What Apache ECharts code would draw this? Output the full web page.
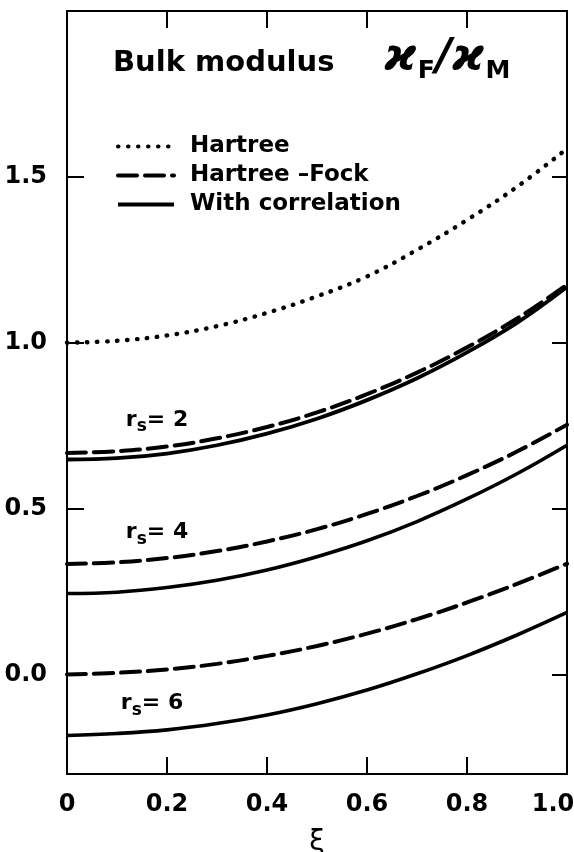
<!DOCTYPE html>
<html>
<head>
<meta charset="utf-8">
<script src="https://cdn.jsdelivr.net/npm/echarts@6/dist/echarts.min.js"></script>
<style>
  html, body { margin: 0; padding: 0; background: #fff; }
  #chart { width: 574px; height: 852px; }
</style>
</head>
<body>
<div id="chart"></div>
<script>
// Spin polarization ξ
const xi = [0, 0.1, 0.2, 0.3, 0.4, 0.5, 0.6, 0.7, 0.8, 0.9, 1.0];

// Hartree (kinetic only)
const hartree = [1.00, 1.006, 1.022, 1.05, 1.09, 1.14, 1.20, 1.28, 1.37, 1.47, 1.585];

// Hartree–Fock for r_s = 2, 4, 6
const hfRs2 = [0.668, 0.673, 0.687, 0.712, 0.746, 0.790, 0.845, 0.910, 0.986, 1.073, 1.175];
const hfRs4 = [0.333, 0.338, 0.351, 0.372, 0.401, 0.438, 0.484, 0.538, 0.601, 0.672, 0.753];
const hfRs6 = [0.000, 0.005, 0.015, 0.032, 0.056, 0.086, 0.123, 0.167, 0.217, 0.273, 0.334];

// With correlation for r_s = 2, 4, 6
const corrRs2 = [0.648, 0.652, 0.666, 0.691, 0.726, 0.771, 0.827, 0.893, 0.971, 1.060, 1.168];
const corrRs4 = [0.244, 0.248, 0.262, 0.284, 0.315, 0.355, 0.403, 0.461, 0.529, 0.605, 0.691];
const corrRs6 = [-0.184, -0.178, -0.167, -0.148, -0.122, -0.088, -0.047, 0.002, 0.057, 0.119, 0.187];

// Axis ticks
const yTickValues = [0, 0.5, 1.0, 1.5];

// Curve annotations: r_s value and its anchor (ξ, value)
const rsLabels = [
  { rs: '2', x: 0.18, y: 0.767 },
  { rs: '4', x: 0.18, y: 0.428 },
  { rs: '6', x: 0.17, y: -0.087 }
];

const FONT = 'DejaVu Sans';
const WEIGHT = 'bold';
const BLACK = '#000';

const pairs = arr => xi.map((x, i) => [x, arr[i]]);

function curve(name, values, type, width) {
  return {
    type: 'line',
    name: name,
    data: pairs(values),
    smooth: 0.4,
    symbol: 'none',
    silent: true,
    itemStyle: { color: BLACK },
    lineStyle: { color: BLACK, width: width, type: type, cap: type === 'solid' ? 'butt' : 'round' },
    z: 3
  };
}

const HF = 'Hartree –Fock';
const WC = 'With correlation';

const chart = echarts.init(document.getElementById('chart'), null, { renderer: 'canvas' });

const tickCommon = { inside: true, length: 17, lineStyle: { color: BLACK, width: 2 } };
const frameLine = { show: true, onZero: false, lineStyle: { color: BLACK, width: 2 } };

chart.setOption({
  backgroundColor: '#fff',
  animation: false,
  grid: { left: 67, right: 7, top: 11, bottom: 78, outerBoundsMode: 'none', containLabel: false },
  title: {
    text: 'Bulk modulus',
    left: 108, top: 44,
    textStyle: { fontFamily: FONT, fontSize: 29, fontWeight: WEIGHT, color: BLACK }
  },
  graphic: [{
    type: 'text',
    left: 384, top: 37,
    style: {
      text: '{k|ϰ}{s|F}{k|/}{k|ϰ}{s|M}',
      rich: {
        k: { fontFamily: FONT, fontSize: 44, fontStyle: 'italic', fontWeight: WEIGHT, fill: BLACK },
        s: { fontFamily: FONT, fontSize: 25, fontWeight: WEIGHT, fill: BLACK, padding: [24, 1, 0, 1] }
      }
    }
  }],
  legend: {
    orient: 'vertical',
    left: 111, top: 130,
    itemWidth: 56, itemHeight: 22, itemGap: 6,
    data: ['Hartree', HF, WC],
    itemStyle: { color: 'rgba(0,0,0,0)', borderWidth: 0, opacity: 0 },
    lineStyle: { width: 4 },
    textStyle: { fontFamily: FONT, fontSize: 23, fontWeight: WEIGHT, color: BLACK, padding: [0, 0, 0, 11] },
    selectedMode: false
  },
  xAxis: [{
    type: 'value', min: 0, max: 1, interval: 0.2, position: 'bottom',
    name: 'ξ', nameLocation: 'middle', nameGap: 55,
    nameTextStyle: { fontFamily: FONT, fontSize: 28, color: BLACK, verticalAlign: 'top' },
    axisLine: frameLine,
    axisTick: tickCommon,
    splitLine: { show: false },
    axisLabel: {
      margin: 19, fontFamily: FONT, fontSize: 24, fontWeight: WEIGHT, color: BLACK,
      formatter: v => (v === 0 ? '0' : v === 1 ? '{e|1.0}' : v.toFixed(1)),
      rich: { e: { fontFamily: FONT, fontSize: 24, fontWeight: WEIGHT, color: BLACK, padding: [0, 28, 0, 0] } }
    }
  }, {
    type: 'value', min: 0, max: 1, interval: 0.2, position: 'top',
    axisLine: frameLine,
    axisTick: tickCommon,
    splitLine: { show: false },
    axisLabel: { show: false }
  }],
  yAxis: [{
    type: 'value', min: -0.3, max: 2.0, position: 'left',
    axisLine: frameLine,
    axisTick: Object.assign({ customValues: yTickValues }, tickCommon),
    splitLine: { show: false },
    axisLabel: {
      customValues: yTickValues,
      margin: 20, fontFamily: FONT, fontSize: 24, fontWeight: WEIGHT, color: BLACK,
      formatter: v => v.toFixed(1)
    }
  }, {
    type: 'value', min: -0.3, max: 2.0, position: 'right',
    axisLine: frameLine,
    axisTick: Object.assign({ customValues: yTickValues }, tickCommon, { length: 15 }),
    splitLine: { show: false },
    axisLabel: { show: false }
  }],
  series: [
    curve('Hartree', hartree, [0.5, 9.5], 4.4),
    curve(HF, hfRs2, [19, 8], 4),
    curve(HF, hfRs4, [19, 8], 4),
    curve(HF, hfRs6, [19, 8], 4),
    curve(WC, corrRs2, 'solid', 3.8),
    curve(WC, corrRs4, 'solid', 3.6),
    curve(WC, corrRs6, 'solid', 3.6),
    {
      type: 'scatter',
      name: 'rs labels',
      symbolSize: 0,
      silent: true,
      itemStyle: { opacity: 1 },
      data: rsLabels.map(d => ({ value: [d.x, d.y], rs: d.rs })),
      label: {
        show: true,
        position: 'inside',
        color: BLACK,
        opacity: 1,
        textBorderWidth: 0,
        formatter: p => '{r|r}{s|s}{r|= ' + p.data.rs + '}',
        rich: {
          r: { fontFamily: FONT, fontSize: 22, fontWeight: WEIGHT, color: BLACK },
          s: { fontFamily: FONT, fontSize: 17, fontWeight: WEIGHT, color: BLACK, padding: [14, 0, 0, 0] }
        }
      },
      z: 5
    }
  ]
});
</script>
</body>
</html>
